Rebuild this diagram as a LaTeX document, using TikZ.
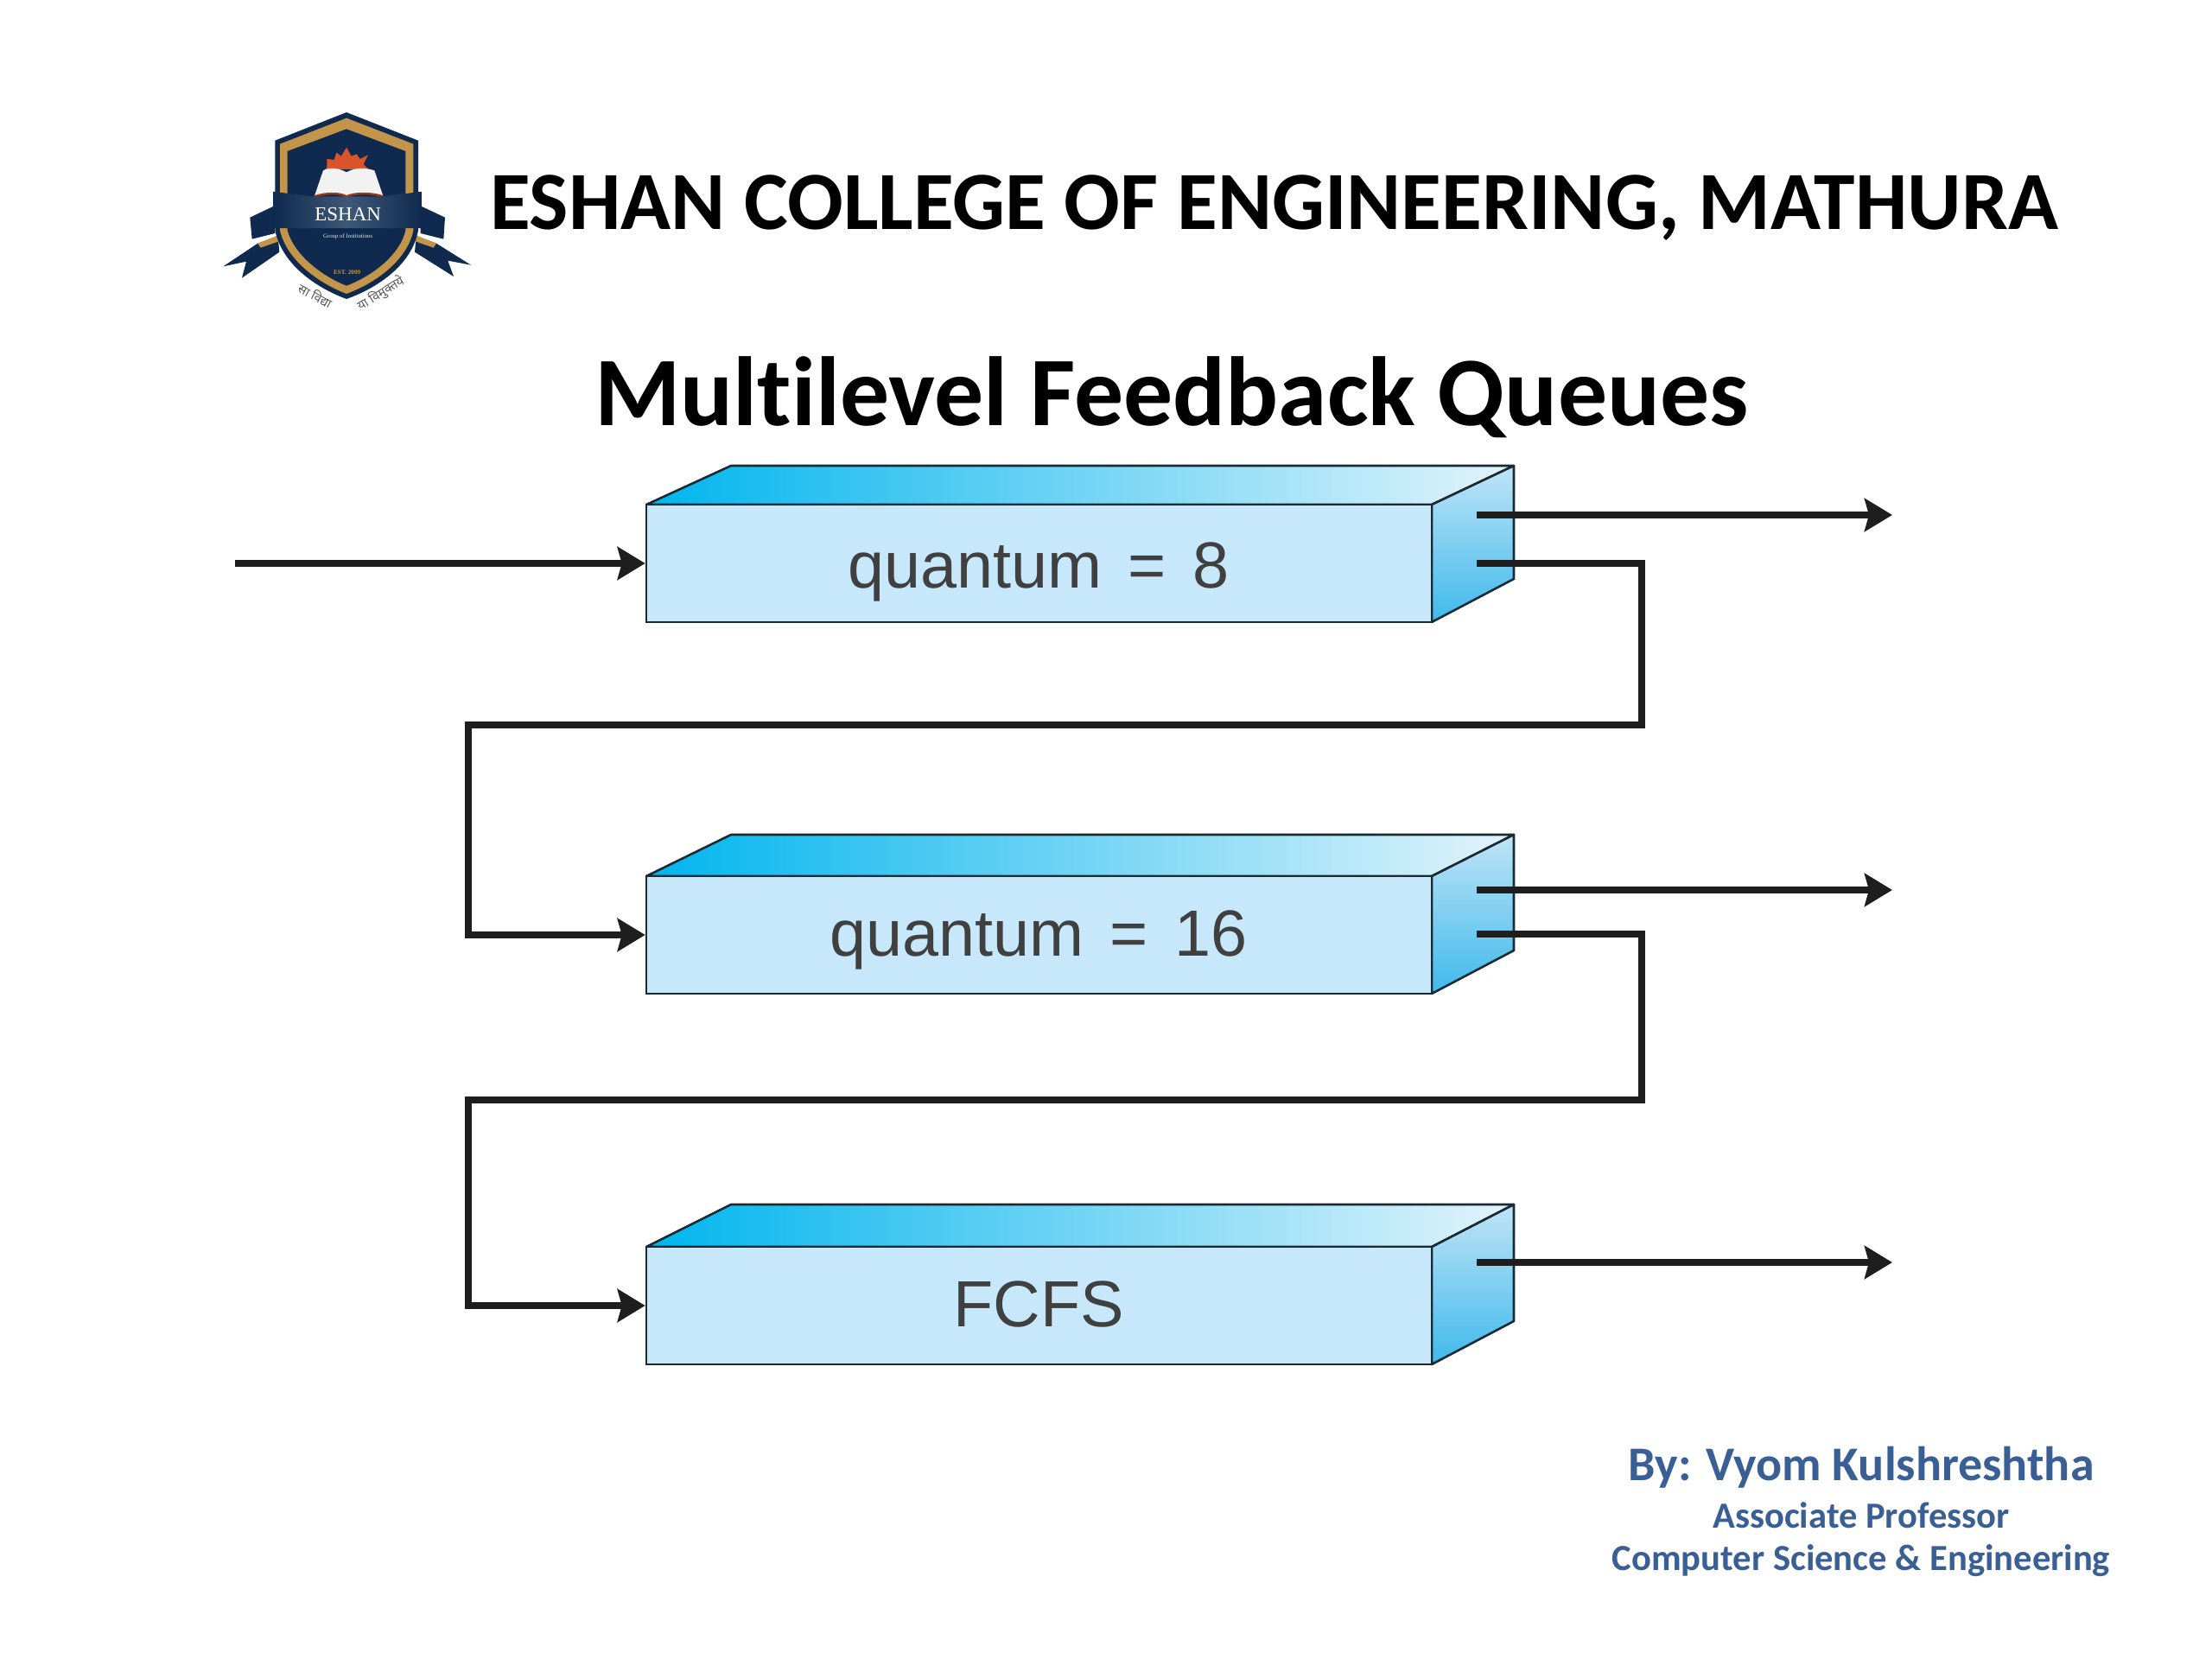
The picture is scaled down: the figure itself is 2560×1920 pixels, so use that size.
\documentclass[tikz,border=0pt]{standalone}
\usepackage{fontspec}
\usetikzlibrary{arrows.meta}
\newfontfamily\calfont[Ligatures=NoCommon]{Carlito}
\newfontfamily\helvfont[WordSpace=1.45]{Liberation Sans}
\newfontfamily\serffont{Liberation Serif}
\newfontfamily\devafont[Script=Devanagari]{Noto Sans}
\definecolor{linek}{HTML}{1E1E1E}
\definecolor{edgek}{HTML}{1A2A33}
\definecolor{frontc}{HTML}{C6E8FA}
\definecolor{topdeep}{HTML}{00B5EE}
\definecolor{toplight}{HTML}{E3F4FB}
\definecolor{sidedeep}{HTML}{3FB9EC}
\definecolor{sidelight}{HTML}{BFE4F6}
\definecolor{bylue}{HTML}{3A5F95}
\definecolor{navy}{HTML}{0F2A4E}
\definecolor{bandc}{HTML}{1D3B60}
\definecolor{gold}{HTML}{C3954A}
\definecolor{flame}{HTML}{D9532B}
\tikzset{
  queuefront/.style={draw=edgek,line width=1.3pt,fill=frontc,minimum width=454.5pt,minimum height=68pt,inner sep=0pt},
  queuelabel/.style={anchor=base,inner sep=0pt,text=black!75,font=\helvfont\fontsize{37.8}{42}\selectfont},
  faceedge/.style={draw=edgek,line width=1.3pt,line join=round},
  conn/.style={draw=linek,line width=3.7pt,line join=miter},
  flow/.style={conn,-{Stealth[length=16pt,width=19pt,inset=2.5pt]}},
  heading/.style={text=black,font=\calfont\bfseries\fontsize{47.9}{52}\selectfont,inner sep=0pt},
  titletext/.style={text=black,font=\calfont\bfseries\fontsize{56.9}{62}\selectfont,inner sep=0pt},
  bybig/.style={text=bylue,font=\calfont\bfseries\fontsize{28}{32}\selectfont,inner sep=0pt},
  bysmall/.style={text=bylue,font=\calfont\bfseries\fontsize{21.3}{25}\selectfont,inner sep=0pt},
}
\newcommand{\queuebox}[5]{%
  % #1 name, #2 vertical offset, #3 y of the back edge, #4 label baseline, #5 label
  \shade[left color=topdeep,right color=toplight,faceedge] (748,584+#2) -- (846,#3) -- (1752,#3) -- (1657,584+#2) -- cycle;
  \shade[shading angle=40,top color=sidelight,bottom color=sidedeep,faceedge] (1657,584+#2) -- (1752,#3) -- (1752,670+#2) -- (1657,720+#2) -- cycle;
  \node[queuefront] (#1) at (1202.5,652+#2) {};
  \node[queuelabel] (#1t) at (1202,#4) {#5};
}
\begin{document}
\begin{tikzpicture}[x=0.5pt,y=-0.5pt]
\useasboundingbox (0,0) rectangle (2560,1920);
\fill[white] (0,0) rectangle (2560,1920);

% logo
\begin{scope}[shift={(230,110)},x=0.16667pt,y=-0.16667pt]
  % ribbon tails
  \fill[navy] (262,385) -- (178,425) -- (185,500) -- (265,480) -- cycle;
  \fill[navy] (770,385) -- (855,425) -- (850,500) -- (770,480) -- cycle;
  \fill[navy] (205,515) -- (85,595) -- (165,578) -- (150,635) -- (280,545) -- (275,490) -- cycle;
  \fill[navy] (825,515) -- (945,590) -- (865,575) -- (885,630) -- (750,545) -- (755,490) -- cycle;
  \fill[gold] (205,515) -- (275,487) -- (278,508) -- (215,530) -- cycle;
  \fill[gold] (825,515) -- (755,487) -- (752,508) -- (815,530) -- cycle;
  % shield
  \fill[navy] (513,60) -- (762,158) -- (762,470) .. controls (740,590) and (620,670) .. (513,708) .. controls (410,670) and (290,590) .. (265,470) -- (265,158) -- cycle;
  \fill[gold] (513,80) -- (745,170) -- (745,470) .. controls (725,570) and (620,650) .. (513,690) .. controls (410,650) and (305,570) .. (282,470) -- (282,170) -- cycle;
  \fill[navy] (513,118) -- (718,195) -- (718,470) .. controls (700,550) and (610,625) .. (513,662) .. controls (420,625) and (330,550) .. (308,470) -- (308,195) -- cycle;
  % flame
  \fill[flame] (445,250) -- (445,222) -- (470,225) -- (478,200) -- (495,212) -- (513,182) -- (530,212) -- (548,205) -- (560,222) -- (588,208) -- (572,240) -- (590,258) -- (440,258) -- cycle;
  % book
  \fill[white!90!gray] (513,268) .. controls (480,250) and (450,252) .. (432,262) -- (402,350) .. controls (450,335) and (490,338) .. (513,350) .. controls (540,338) and (590,335) .. (640,350) -- (610,262) .. controls (580,252) and (545,250) .. (513,268) -- cycle;
  \draw[flame!70!black,line width=1.2pt] (402,352) .. controls (450,337) and (490,340) .. (513,352) .. controls (540,340) and (590,337) .. (640,352);
  % banner
  \shade[left color=navy,right color=navy,middle color=bandc!85!white] (258,335) -- (390,352) -- (640,352) -- (775,335) -- (775,462) -- (258,462) -- cycle;
  \node[text=white,inner sep=0pt,font=\serffont\fontsize{11.5}{13}\selectfont] (logoname) at (518,413) {ESHAN};
  \node[text=white!80!gray,inner sep=0pt,font=\serffont\fontsize{3.4}{4}\selectfont] (logogroup) at (518,490) {Group of Institutions};
  \node[text=gold,inner sep=0pt,font=\serffont\bfseries\fontsize{3.6}{4}\selectfont] (logoest) at (515,614) {EST. 2009};
  \node[text=black!65,inner sep=0pt,rotate=-28,font=\devafont\fontsize{7.2}{8}\selectfont] (logomottoa) at (405,695) {सा विद्या};
  \node[text=black!65,inner sep=0pt,rotate=32,font=\devafont\fontsize{7.2}{8}\selectfont] (logomottob) at (632,690) {या विमुक्तये};
\end{scope}

% headings
\node[heading] (college) at (1474.5,241) {ESHAN COLLEGE OF ENGINEERING, MATHURA};
\node[titletext] (title) at (1356,460) {Multilevel Feedback Queues};

% queues
\queuebox{qa}{0}{539}{680}{quantum = 8}
\queuebox{qb}{430}{966}{1106}{quantum = 16}
\queuebox{qc}{859}{1394}{1535}{FCFS}

% ports and free ends
\coordinate (in) at (272,652);
\coordinate (outaS) at (1709,596);
\coordinate (outaE) at (2190,596);
\coordinate (outbS) at (1709,1030);
\coordinate (outbE) at (2190,1030);
\coordinate (outcS) at (1709,1461);
\coordinate (outcE) at (2190,1461);
\coordinate (downaS) at (1709,652);
\coordinate (downbS) at (1709,1081);
\coordinate (turnaR) at (1900,839);
\coordinate (turnaL) at (542,839);
\coordinate (turnbR) at (1900,1273);
\coordinate (turnbL) at (542,1273);

% connectors
\draw[flow] (in) -- (qa.west);
\draw[flow] (outaS) -- (outaE);
\draw[flow] (outbS) -- (outbE);
\draw[flow] (outcS) -- (outcE);
\draw[flow] (downaS) -| (turnaR) -- (turnaL) |- (qb.west);
\draw[flow] (downbS) -| (turnbR) -- (turnbL) |- (qc.west);

% credit
\node[bybig] (by) at (2154,1698) {By: Vyom Kulshreshtha};
\node[bysmall] (role) at (2154,1754) {Associate Professor};
\node[bysmall] (dept) at (2154,1806) {Computer Science \& Engineering};
\end{tikzpicture}
\end{document}
